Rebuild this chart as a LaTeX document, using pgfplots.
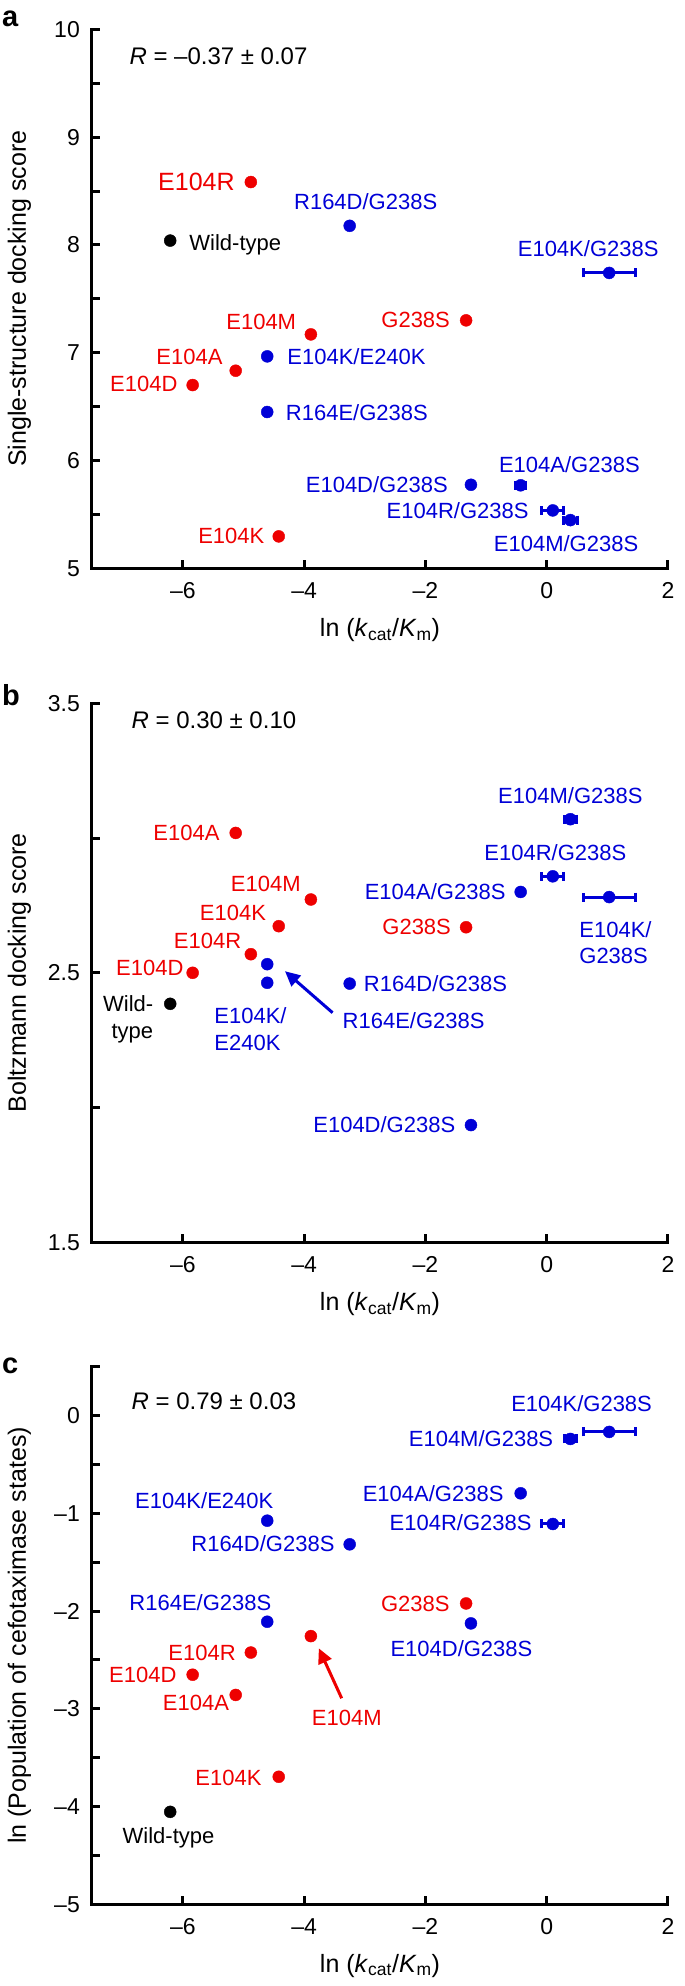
\documentclass[border=0pt]{standalone}
\usepackage{fontspec}
\setmainfont{Liberation Sans}
\usepackage{pgfplots}
\pgfplotsset{compat=1.18}
\usetikzlibrary{arrows.meta}
\definecolor{myred}{RGB}{238,0,0}
\definecolor{myblue}{RGB}{0,0,215}
\tikzset{lab/.style={inner sep=0pt, font=\fontsize{22}{26.5}\selectfont}}
\pgfplotsset{
  panel/.style={
    scale only axis, width=576pt, clip=false,
    xmin=-7.5, xmax=2,
    axis x line=bottom, axis y line=left,
    axis line style={-, line width=3pt, line cap=rect},
    tick style={line width=3pt, black},
    major tick length=8pt, minor tick length=8pt,
    tick align=inside,
    xtick={-6,-4,-2,0,2}, xticklabels={–6,–4,–2,0,2},
    tick label style={font=\fontsize{23}{27}\selectfont},
    xticklabel style={anchor=base, yshift=-30pt, inner sep=0pt},
    yticklabel style={anchor=east, inner sep=0pt, xshift=-12pt},
    xlabel={ln (\textit{k}\textsubscript{cat}/\textit{K}\textsubscript{m})},
    xlabel style={at={(axis description cs:0.5,-0.1262)}, anchor=base, font=\fontsize{25}{30}\selectfont},
    ylabel style={at={(axis description cs:-0.1146,0.5)}, anchor=base, font=\fontsize{25}{30}\selectfont},
  },
  dots/.style={only marks, mark=*, mark size=6pt, color=#1},
  ebars/.style={only marks, mark=*, mark size=6pt, color=#1,
    error bars/.cd, x dir=both, x explicit,
    error bar style={line width=3pt},
    error mark options={rotate=90, mark size=4.5pt, line width=3pt}},
}
\begin{document}
\begin{tikzpicture}
\useasboundingbox (0,0) rectangle (685pt,-1986pt);

% ---------------- panel a ----------------
\begin{axis}[panel, at={(92pt,-568.3pt)}, anchor=south west, height=539pt,
  ymin=5, ymax=10, ytick={5,6,7,8,9,10}, yticklabels={5,6,7,8,9,10},
  minor ytick={5.5,6.5,7.5,8.5,9.5},
  ylabel={Single-structure docking score}]
\addplot[dots=black] coordinates {(-6.21,8.04)};
\addplot[dots=myred] coordinates {(-4.88,8.583) (-1.33,7.30) (-3.89,7.17) (-5.13,6.833) (-5.84,6.70) (-4.42,5.296)};
\addplot[dots=myblue] coordinates {(-3.25,8.177) (-4.61,6.966) (-4.61,6.45) (-1.25,5.775)};
\addplot[ebars=myblue] coordinates {(1.03,7.74) +- (0.43,0) (-0.43,5.77) +- (0.08,0) (0.10,5.537) +- (0.18,0) (0.39,5.447) +- (0.12,0)};
\node[lab, myred, anchor=east, xshift=-16pt, font=\fontsize{25}{30}\selectfont] at (axis cs:-4.88,8.583) {E104R};
\node[lab, myblue, xshift=16pt, yshift=24pt] at (axis cs:-3.25,8.177) {R164D/G238S};
\node[lab, black, anchor=west, xshift=19pt, yshift=-4pt] at (axis cs:-6.21,8.04) {Wild-type};
\node[lab, myblue, xshift=-21pt, yshift=24pt] at (axis cs:1.03,7.74) {E104K/G238S};
\node[lab, myred, anchor=east, xshift=-16pt] at (axis cs:-1.33,7.30) {G238S};
\node[lab, myred, anchor=east, xshift=-14.6pt, yshift=12pt] at (axis cs:-3.89,7.17) {E104M};
\node[lab, myblue, anchor=west, xshift=20pt] at (axis cs:-4.61,6.966) {E104K/E240K};
\node[lab, myred, anchor=east, xshift=-13pt, yshift=13.7pt] at (axis cs:-5.13,6.833) {E104A};
\node[lab, myred, anchor=east, xshift=-15pt, yshift=0.7pt] at (axis cs:-5.84,6.70) {E104D};
\node[lab, myblue, anchor=west, xshift=18.5pt, yshift=-1pt] at (axis cs:-4.61,6.45) {R164E/G238S};
\node[lab, myblue, anchor=east, xshift=-23pt] at (axis cs:-1.25,5.775) {E104D/G238S};
\node[lab, myblue, xshift=48.7pt, yshift=20.3pt] at (axis cs:-0.43,5.77) {E104A/G238S};
\node[lab, myblue, anchor=east, xshift=-24pt] at (axis cs:0.10,5.537) {E104R/G238S};
\node[lab, myblue, xshift=-4.3pt, yshift=-23.3pt] at (axis cs:0.39,5.447) {E104M/G238S};
\node[lab, myred, anchor=east, xshift=-14.2pt] at (axis cs:-4.42,5.296) {E104K};
\end{axis}

% ---------------- panel b ----------------
\begin{axis}[panel, at={(92pt,-1242.3pt)}, anchor=south west, height=539pt,
  ymin=1.5, ymax=3.5, ytick={1.5,2.5,3.5}, yticklabels={1.5,2.5,3.5},
  minor ytick={2,3},
  ylabel={Boltzmann docking score}]
\addplot[dots=black] coordinates {(-6.21,2.385)};
\addplot[dots=myred] coordinates {(-5.13,3.019) (-3.89,2.772) (-4.42,2.673) (-1.33,2.669) (-4.88,2.569) (-5.84,2.50)};
\addplot[dots=myblue] coordinates {(-0.43,2.80) (-4.61,2.532) (-4.61,2.463) (-3.25,2.46) (-1.25,1.935)};
\addplot[ebars=myblue] coordinates {(0.39,3.070) +- (0.1,0) (0.10,2.858) +- (0.18,0) (1.03,2.781) +- (0.43,0)};
\node[lab, myblue, yshift=23.3pt] at (axis cs:0.39,3.070) {E104M/G238S};
\node[lab, myred, anchor=east, xshift=-16pt] at (axis cs:-5.13,3.019) {E104A};
\node[lab, myblue, xshift=2.6pt, yshift=24pt] at (axis cs:0.10,2.858) {E104R/G238S};
\node[lab, myblue, anchor=east, xshift=-15pt] at (axis cs:-0.43,2.80) {E104A/G238S};
\node[lab, myblue, align=left, anchor=north west, xshift=-30pt, yshift=-24pt] at (axis cs:1.03,2.781) {E104K/\\G238S};
\node[lab, myred, anchor=east, xshift=-10pt, yshift=16pt] at (axis cs:-3.89,2.772) {E104M};
\node[lab, myred, anchor=east, xshift=-12.5pt, yshift=13.3pt] at (axis cs:-4.42,2.673) {E104K};
\node[lab, myred, anchor=east, xshift=-15pt] at (axis cs:-1.33,2.669) {G238S};
\node[lab, myred, anchor=east, xshift=-9.5pt, yshift=13pt] at (axis cs:-4.88,2.569) {E104R};
\node[lab, myred, anchor=east, xshift=-9pt, yshift=5pt] at (axis cs:-5.84,2.50) {E104D};
\node[lab, myblue, anchor=west, xshift=14pt] at (axis cs:-3.25,2.46) {R164D/G238S};
\node[lab, black, align=right, anchor=north east, xshift=-16.8pt, yshift=8.3pt] at (axis cs:-6.21,2.385) {Wild-\\type};
\node[lab, myblue, align=left, anchor=north west, xshift=-53pt, yshift=-24.7pt] at (axis cs:-4.61,2.463) {E104K/\\E240K};
\node[lab, myblue, anchor=west] at (axis cs:-3.368,2.321) {R164E/G238S};
\draw[myblue, line width=3pt, -{Triangle[length=15pt,width=14pt]}] (axis cs:-3.532,2.352) -- (axis cs:-4.317,2.506);
\node[lab, myblue, anchor=east, xshift=-15.5pt] at (axis cs:-1.25,1.935) {E104D/G238S};
\end{axis}

% ---------------- panel c ----------------
\begin{axis}[panel, at={(92pt,-1904.3pt)}, anchor=south west, height=537.6pt,
  ymin=-5, ymax=0.5, ytick={-5,-4,-3,-2,-1,0}, yticklabels={–5,–4,–3,–2,–1,0},
  minor ytick={-4.5,-3.5,-2.5,-1.5,-0.5,0.5},
  ylabel={ln (Population of cefotaximase states)}]
\addplot[dots=black] coordinates {(-6.21,-4.054)};
\addplot[dots=myred] coordinates {(-1.33,-1.922) (-3.89,-2.256) (-4.88,-2.424) (-5.84,-2.651) (-5.13,-2.858) (-4.42,-3.695)};
\addplot[dots=myblue] coordinates {(-0.43,-0.795) (-4.61,-1.075) (-3.25,-1.317) (-4.61,-2.109) (-1.25,-2.126)};
\addplot[ebars=myblue] coordinates {(1.03,-0.167) +- (0.43,0) (0.39,-0.239) +- (0.1,0) (0.10,-1.109) +- (0.18,0)};
\node[lab, myblue, xshift=-27.6pt, yshift=28.7pt] at (axis cs:1.03,-0.167) {E104K/G238S};
\node[lab, myblue, anchor=east, xshift=-17pt] at (axis cs:0.39,-0.239) {E104M/G238S};
\node[lab, myblue, anchor=east, xshift=-17pt] at (axis cs:-0.43,-0.795) {E104A/G238S};
\node[lab, myblue, xshift=-63pt, yshift=19.7pt] at (axis cs:-4.61,-1.075) {E104K/E240K};
\node[lab, myblue, anchor=east, xshift=-21pt, yshift=1.3pt] at (axis cs:0.10,-1.109) {E104R/G238S};
\node[lab, myblue, anchor=east, xshift=-15pt, yshift=1pt] at (axis cs:-3.25,-1.317) {R164D/G238S};
\node[lab, myblue, xshift=-66.8pt, yshift=19pt] at (axis cs:-4.61,-2.109) {R164E/G238S};
\node[lab, myred, anchor=east, xshift=-16.4pt] at (axis cs:-1.33,-1.922) {G238S};
\node[lab, myblue, xshift=-9.5pt, yshift=-25pt] at (axis cs:-1.25,-2.126) {E104D/G238S};
\node[lab, myred] at (axis cs:-3.297,-3.097) {E104M};
\draw[myred, line width=3pt, -{Triangle[length=15pt,width=14pt]}] (axis cs:-3.382,-2.892) -- (axis cs:-3.759,-2.381);
\node[lab, myred, anchor=east, xshift=-15pt] at (axis cs:-4.88,-2.424) {E104R};
\node[lab, myred, anchor=east, xshift=-16pt] at (axis cs:-5.84,-2.651) {E104D};
\node[lab, myred, anchor=east, xshift=-6.5pt, yshift=-8.3pt] at (axis cs:-5.13,-2.858) {E104A};
\node[lab, myred, anchor=east, xshift=-17pt, yshift=-1pt] at (axis cs:-4.42,-3.695) {E104K};
\node[lab, black, xshift=-1.7pt, yshift=-26.3pt] at (axis cs:-6.21,-4.054) {Wild-type};
\end{axis}

% R values and panel letters
\node[inner sep=0pt, anchor=west, font=\fontsize{24}{28}\selectfont] at (129.3pt,-56.7pt) {\textit{R} = –0.37 ± 0.07};
\node[inner sep=0pt, anchor=west, font=\fontsize{24}{28}\selectfont] at (131.4pt,-720pt) {\textit{R} = 0.30 ± 0.10};
\node[inner sep=0pt, anchor=west, font=\fontsize{24}{28}\selectfont] at (131.4pt,-1401.7pt) {\textit{R} = 0.79 ± 0.03};
\node[inner sep=0pt, anchor=base west, font=\fontsize{29}{34}\selectfont\bfseries] at (2pt,-26.7pt) {a};
\node[inner sep=0pt, anchor=base west, font=\fontsize{29}{34}\selectfont\bfseries] at (2pt,-705pt) {b};
\node[inner sep=0pt, anchor=base west, font=\fontsize{29}{34}\selectfont\bfseries] at (2pt,-1373pt) {c};
\end{tikzpicture}
\end{document}
